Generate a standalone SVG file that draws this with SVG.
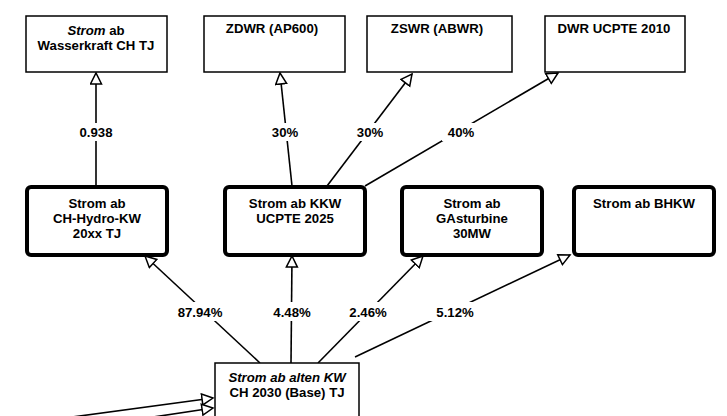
<svg xmlns="http://www.w3.org/2000/svg" width="727" height="416" viewBox="0 0 727 416">
<defs>
<marker id="tri" markerUnits="userSpaceOnUse" markerWidth="14" markerHeight="14" viewBox="-1 -1 14 14" refX="11" refY="5.5" orient="auto">
<path d="M0,0 L11,5.5 L0,11 z" fill="#fff" stroke="#000" stroke-width="1.5"/>
</marker>
<style>
text{font-family:"Liberation Sans",Arial,sans-serif;font-size:13.2px;font-weight:bold;fill:#000;text-anchor:middle}
.thin{fill:#fff;stroke:#000;stroke-width:1.5}
.thick{fill:#fff;stroke:#000;stroke-width:4}
.c{fill:none;stroke:#000;stroke-width:1.6;marker-end:url(#tri)}
.lbl{fill:#fff;stroke:none}
tspan.i{font-style:italic}
</style>
</defs>
<rect width="727" height="416" fill="#fff"/>
<g id="connectors">
<path class="c" d="M96,186 L96,73"/>
<path class="c" d="M292,186 L280,73"/>
<path class="c" d="M327,186 L412,74"/>
<path class="c" d="M365,186 L558,73"/>
<path class="c" d="M260,363 L145,256"/>
<path class="c" d="M291,363 L292,256"/>
<path class="c" d="M318,363 L423,256"/>
<path class="c" d="M355,357 L570,255"/>
<path class="c" d="M50,420 L213,398"/>
<path class="c" d="M120,422 L213,408"/>
<path class="c" d="M228,430 L226,414"/>
<rect class="lbl" x="72" y="123" width="48" height="18"/>
<rect class="lbl" x="266" y="123" width="38" height="18"/>
<rect class="lbl" x="351" y="123" width="38" height="18"/>
<rect class="lbl" x="442" y="123" width="38" height="18"/>
<rect class="lbl" x="170" y="302" width="60" height="19"/>
<rect class="lbl" x="266" y="302" width="52" height="19"/>
<rect class="lbl" x="342" y="302" width="52" height="19"/>
<rect class="lbl" x="429" y="302" width="52" height="19"/>
<text x="96" y="137">0.938</text>
<text x="285" y="137">30%</text>
<text x="370" y="137">30%</text>
<text x="461" y="137">40%</text>
<text x="200" y="317">87.94%</text>
<text x="292" y="317">4.48%</text>
<text x="368" y="317">2.46%</text>
<text x="455" y="317">5.12%</text>
</g>
<g id="n_wasserkraft">
<rect class="thin" x="26" y="16" width="141" height="56"/>
<text x="96" y="35"><tspan class="i">Strom</tspan> ab</text>
<text x="96" y="50">Wasserkraft CH TJ</text>
</g>
<g id="n_zdwr">
<rect class="thin" x="204" y="16" width="141" height="56"/>
<text x="272" y="33">ZDWR (AP600)</text>
</g>
<g id="n_zswr">
<rect class="thin" x="367" y="16" width="145" height="56"/>
<text x="437" y="33">ZSWR (ABWR)</text>
</g>
<g id="n_dwr">
<rect class="thin" x="545" y="16" width="140" height="56"/>
<text x="614" y="33">DWR UCPTE 2010</text>
</g>
<g id="n_hydro">
<rect class="thick" x="27" y="187" width="140" height="68" rx="4"/>
<text x="97" y="208">Strom ab</text>
<text x="97" y="222.8">CH-Hydro-KW</text>
<text x="97" y="237.6">20xx TJ</text>
</g>
<g id="n_kkw">
<rect class="thick" x="225" y="187" width="140" height="68" rx="4"/>
<text x="295" y="208">Strom ab KKW</text>
<text x="295" y="222.8">UCPTE 2025</text>
</g>
<g id="n_gas">
<rect class="thick" x="402" y="187" width="140" height="68" rx="4"/>
<text x="472" y="208">Strom ab</text>
<text x="472" y="222.8">GAsturbine</text>
<text x="472" y="237.6">30MW</text>
</g>
<g id="n_bhkw">
<rect class="thick" x="574" y="187" width="140" height="68" rx="4"/>
<text x="644" y="208">Strom ab BHKW</text>
</g>
<g id="n_alten">
<rect class="thin" x="215" y="363" width="144" height="70"/>
<text x="287" y="382" font-style="italic">Strom ab alten KW</text>
<text x="287" y="397">CH 2030 (Base) TJ</text>
</g>
</svg>
